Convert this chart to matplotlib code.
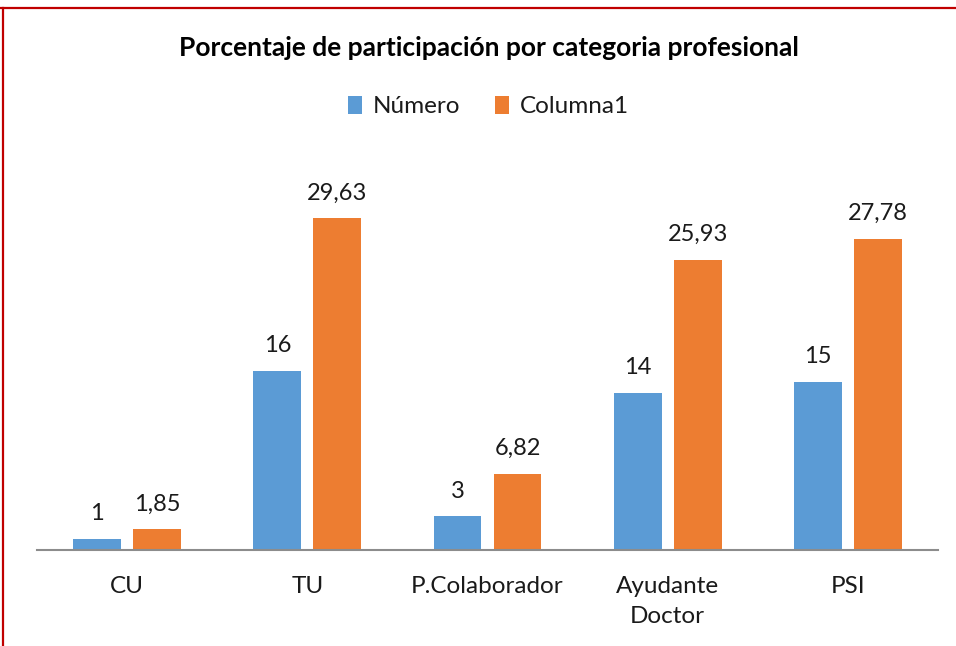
import matplotlib.pyplot as plt
from matplotlib.lines import Line2D
import numpy as np

CATEGORIES = ['CU', 'TU', 'P.Colaborador', 'Ayudante\nDoctor', 'PSI']
NUMERO = [1, 16, 3, 14, 15]
COLUMNA1 = [1.85, 29.63, 6.82, 25.93, 27.78]
SERIES_NAMES = ['Número', 'Columna1']

BLUE = '#5B9BD5'
ORANGE = '#ED7D31'
FONT = ['Lato', 'DejaVu Sans']

plt.rcParams['font.family'] = FONT


def fmt(v):
    # Excel style: comma as decimal separator
    if float(v).is_integer():
        return str(int(v))
    return f"{v:.2f}".replace('.', ',')


fig = plt.figure(figsize=(9.56, 6.46), dpi=100)
ax = fig.add_axes([37 / 956, 96 / 646, 901 / 956, 392 / 646])

x = np.arange(len(CATEGORIES))
w = 0.266
gap = 0.067
b1 = ax.bar(x - (w + gap) / 2, NUMERO, width=w, color=BLUE, label=SERIES_NAMES[0])
b2 = ax.bar(x + (w + gap) / 2, COLUMNA1, width=w, color=ORANGE, label=SERIES_NAMES[1])

for bars, vals in ((b1, NUMERO), (b2, COLUMNA1)):
    for rect, v in zip(bars, vals):
        ax.annotate(fmt(v), (rect.get_x() + rect.get_width() / 2, rect.get_height()),
                    xytext=(0, 13.5), textcoords='offset points',
                    ha='center', va='baseline', fontsize=17, color='#1a1a1a')

ax.set_xlim(-0.5, len(CATEGORIES) - 0.5)
ax.set_ylim(0, 35)
ax.set_xticks(x)
ax.set_xticklabels(CATEGORIES, fontsize=17.5, color='#1a1a1a', linespacing=1.5)
ax.tick_params(axis='x', length=0, pad=19)
ax.set_yticks([])
for s in ['top', 'right', 'left']:
    ax.spines[s].set_visible(False)
ax.spines['bottom'].set_color('#8c8c8c')
ax.spines['bottom'].set_linewidth(1.5)

fig.text(0.511, 0.925, 'Porcentaje de participación por categoria profesional',
         ha='center', va='center', fontsize=19, fontweight='bold', color='#000000')

fig.legend(loc='center', bbox_to_anchor=(0.511, 0.835), ncol=2, frameon=False,
           fontsize=17.5, handlelength=0.6, handleheight=0.75, handletextpad=0.45,
           columnspacing=1.4, labelcolor='#1a1a1a')

# red frame lines (top and left edges visible in the original screenshot)
fig.add_artist(Line2D([0, 1], [1 - 8 / 646, 1 - 8 / 646], color='#C00000', lw=1.6,
                      transform=fig.transFigure))
fig.add_artist(Line2D([3 / 956, 3 / 956], [0, 1 - 8 / 646], color='#C00000', lw=1.6,
                      transform=fig.transFigure))

plt.savefig('out.png', dpi=100)
